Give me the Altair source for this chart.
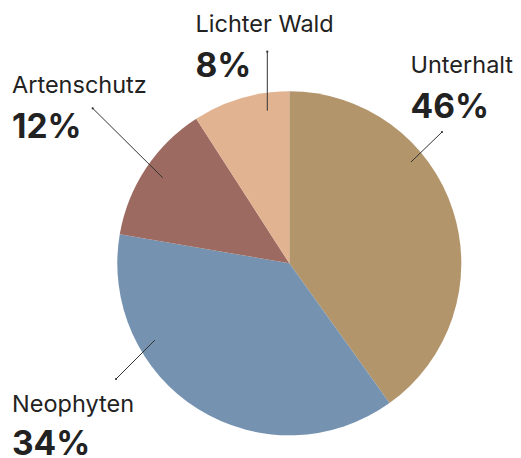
import altair as alt
import pandas as pd

# ---- data ----
categories = ["Unterhalt", "Neophyten", "Artenschutz", "Lichter Wald"]
shares = [40.1, 37.6, 13.2, 9.1]          # slice sizes as drawn
pct_labels = ["46%", "34%", "12%", "8%"]  # printed labels
colors = ["#B3956C", "#7592B0", "#9C6A61", "#E2B391"]

# ---- annotation layout (pixels in chart coords) ----
label_x = [402.5, 4, 4, 187.5]
name_y = [65.3, 403.7, 85.3, 24.3]
pct_y = [109.7, 446.5, 129.7, 68.7]
lead_x1 = [434, 108, 84.7, 259.3]
lead_y1 = [124, 371, 100.3, 43.7]
lead_x2 = [403, 147, 154.7, 259.3]
lead_y2 = [154, 332, 169.7, 102.7]

W, H = 505, 450
CX, CY, R = 281.3, 255.3, 172

pie_df = pd.DataFrame({"category": categories, "share": shares,
                       "order": list(range(len(categories)))})
lab_df = pd.DataFrame({"category": categories, "pct": pct_labels,
                       "lx": label_x, "ny": name_y, "py": pct_y,
                       "x1": lead_x1, "y1": lead_y1, "x2": lead_x2, "y2": lead_y2})

pie = alt.Chart(pie_df).mark_arc(radius=R).encode(
    theta=alt.Theta("share:Q", stack=True),
    color=alt.Color("category:N", scale=alt.Scale(domain=categories, range=colors), legend=None),
    order=alt.Order("order:Q"),
    x=alt.value(CX),
    y=alt.value(CY),
)

base = alt.Chart(lab_df)

leaders = base.mark_rule(color="#333333", strokeWidth=1).encode(
    x=alt.X("x1:Q", scale=None),
    y=alt.Y("y1:Q", scale=None),
    x2="x2:Q",
    y2="y2:Q",
)

dots = base.mark_circle(color="#333333", size=5, opacity=1).encode(
    x=alt.X("x1:Q", scale=None),
    y=alt.Y("y1:Q", scale=None),
)

names = base.mark_text(align="left", baseline="alphabetic", font="Inter",
                       fontSize=23.5, color="#222222").encode(
    x=alt.X("lx:Q", scale=None),
    y=alt.Y("ny:Q", scale=None),
    text="category:N",
)

pcts = base.mark_text(align="left", baseline="alphabetic", font="Inter",
                      fontSize=33.5, fontWeight="bold", color="#222222").encode(
    x=alt.X("lx:Q", scale=None),
    y=alt.Y("py:Q", scale=None),
    text="pct:N",
)

chart = alt.layer(pie, leaders, dots, names, pcts).properties(
    width=W, height=H, padding=0,
    autosize=alt.AutoSizeParams(type="none"),
).configure_view(stroke=None)

chart.save("out.html", embed_options={"renderer": "svg", "actions": False})
